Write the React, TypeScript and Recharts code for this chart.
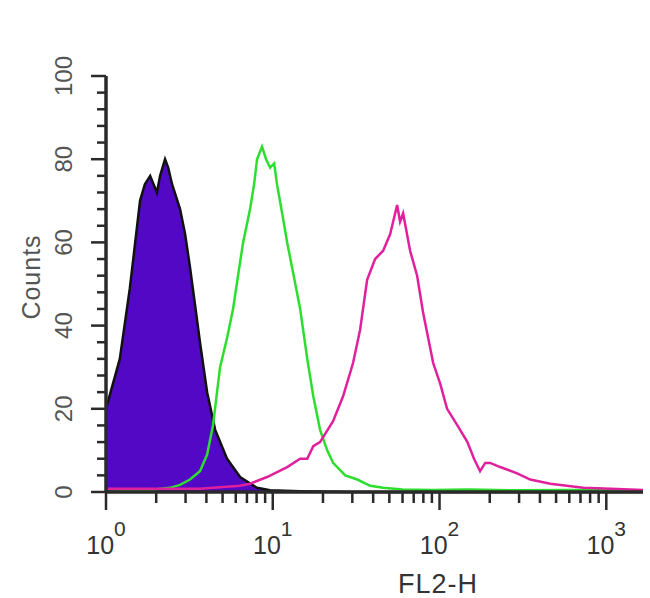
import { ComposedChart, Area, Line, XAxis, YAxis } from 'recharts';

// FL2-H channel value / counts
const isotypeX = [1, 1.21, 1.39, 1.6, 1.71, 1.84, 2.02, 2.11, 2.26, 2.36, 2.49, 2.78, 2.98, 3.19, 3.42, 3.66, 4.04, 4.51, 5.32, 6.37, 8.05, 9.64, 14.6, 30, 100, 1660];
const isotypeY = [20, 32, 49, 70, 74, 76, 72, 76, 80, 78, 74, 68, 62, 54, 45, 36, 24, 15, 8, 3.6, 1, 0.4, 0.2, 0, 0, 0];

const greenX = [1, 1.84, 2.42, 2.78, 3.19, 3.66, 4.04, 4.38, 4.83, 5.32, 5.78, 6.19, 6.64, 7.31, 7.73, 8.05, 8.62, 9.12, 9.64, 10.2, 10.6, 11.5, 12.2, 13.2, 14.6, 16.1, 17.5, 19.2, 21.2, 23, 27.2, 32.1, 38.4, 45.9, 60, 90, 150, 300, 600, 1660];
const greenY = [0, 0.5, 1, 1.7, 3, 5, 9, 16, 30, 37, 44, 52, 60, 68, 74, 80, 83, 80, 78, 79, 74, 66, 60, 53, 44, 32, 23, 15, 10, 7, 4, 3, 1.5, 1, 0.6, 0.5, 0.6, 0.4, 0.5, 0.4];

const magentaX = [1, 2, 3.66, 6.37, 7.31, 9.24, 12.2, 14.6, 16.1, 17.5, 19.2, 23, 26.4, 30.3, 33.4, 36.8, 41.1, 45.9, 50.6, 55.7, 58, 60.5, 66.6, 73.4, 79.8, 91.6, 101, 111, 128, 147, 161, 175, 188, 201, 231, 292, 350, 461, 727, 1164, 1660];
const magentaY = [0.8, 0.8, 0.8, 1.5, 2, 3.6, 6, 8, 8, 11, 12, 17, 23, 31, 39, 51, 56, 58, 62, 69, 65, 67, 58, 52, 43, 31, 26, 20, 16, 12, 8, 5, 7, 7, 6, 4.5, 3, 2, 1, 0.7, 0.5];

const xTicks = [1, 2, 3, 4, 5, 6, 7, 8, 9, 10, 20, 30, 40, 50, 60, 70, 80, 90, 100, 200, 300, 400, 500, 600, 700, 800, 900, 1000];
const decades = [1, 10, 100, 1000];
const yTicks = [0, 4, 8, 12, 16, 20, 24, 28, 32, 36, 40, 44, 48, 52, 56, 60, 64, 68, 72, 76, 80, 84, 88, 92, 96, 100];

const isotype = isotypeX.map((x, i) => ({ x, count: isotypeY[i] }));
const green = greenX.map((x, i) => ({ x, count: greenY[i] }));
const magenta = magentaX.map((x, i) => ({ x, count: magentaY[i] }));

const FONT = '"Liberation Sans", Arial, sans-serif';
const AXIS = '#2a2a2a';

const XTick = (props: any) => {
  const { x, y, payload } = props;
  const exp = decades.indexOf(payload.value);
  const major = exp >= 0;
  return (
    <g>
      <line x1={x} x2={x} y1={y} y2={y + (major ? 18 : 11)} stroke={AXIS} strokeWidth={2.5} />
      {major && (
        <text x={x} y={y + 62} textAnchor="middle" fontSize={25} fill="#333" fontFamily={FONT}>
          10<tspan dy={-18} fontSize={21}>{exp}</tspan>
        </text>
      )}
    </g>
  );
};

const YTick = (props: any) => {
  const { x, y, payload } = props;
  const major = payload.value % 20 === 0;
  return (
    <g>
      <line x1={x} x2={x - (major ? 15 : 9)} y1={y} y2={y} stroke={AXIS} strokeWidth={2.5} />
      {major && (
        <text
          transform={`translate(${x - 34},${y}) rotate(-90)`}
          textAnchor="middle"
          fontSize={24}
          fill="#555"
          fontFamily={FONT}
        >
          {payload.value}
        </text>
      )}
    </g>
  );
};

export default function App() {
  return (
    <div style={{ position: 'absolute', left: 0, top: 0, width: 650, height: 598, background: '#fff' }}>
      <ComposedChart width={650} height={598} margin={{ top: 76, right: 7, bottom: 0, left: 0 }}>
        <XAxis
          dataKey="x"
          type="number"
          scale="log"
          domain={[1, 1660]}
          allowDataOverflow
          ticks={xTicks}
          interval={0}
          tick={<XTick />}
          tickLine={false}
          tickSize={0}
          tickMargin={0}
          height={106}
          axisLine={{ stroke: AXIS, strokeWidth: 3.5 }}
          label={{
            content: () => (
              <text x={438} y={593} textAnchor="middle" fontSize={27} letterSpacing={1} fill="#333" fontFamily={FONT}>
                FL2-H
              </text>
            ),
          }}
        />
        <XAxis
          xAxisId="top"
          orientation="top"
          type="number"
          domain={[0, 1]}
          tick={false}
          tickLine={false}
          height={0}
          axisLine={{ stroke: AXIS, strokeWidth: 3.5 }}
        />
        <YAxis
          type="number"
          domain={[0, 100]}
          ticks={yTicks}
          interval={0}
          tick={<YTick />}
          tickLine={false}
          tickSize={0}
          tickMargin={0}
          width={106}
          axisLine={{ stroke: AXIS, strokeWidth: 3.5 }}
          label={{
            content: () => (
              <text
                transform="translate(40,277) rotate(-90)"
                textAnchor="middle"
                fontSize={25}
                letterSpacing={1}
                fill="#555"
                fontFamily={FONT}
              >
                Counts
              </text>
            ),
          }}
        />
        <YAxis
          yAxisId="right"
          orientation="right"
          type="number"
          domain={[0, 1]}
          tick={false}
          tickLine={false}
          width={0}
          axisLine={{ stroke: AXIS, strokeWidth: 3.5 }}
        />
        <Area
          data={isotype}
          dataKey="count"
          type="linear"
          stroke="#111"
          strokeWidth={2.5}
          fill="#5208c4"
          fillOpacity={1}
          isAnimationActive={false}
        />
        <Line
          data={green}
          dataKey="count"
          type="linear"
          stroke="#2ede2e"
          strokeWidth={2.5}
          dot={false}
          isAnimationActive={false}
        />
        <Line
          data={magenta}
          dataKey="count"
          type="linear"
          stroke="#e0209c"
          strokeWidth={2.5}
          dot={false}
          isAnimationActive={false}
        />
      </ComposedChart>
    </div>
  );
}
